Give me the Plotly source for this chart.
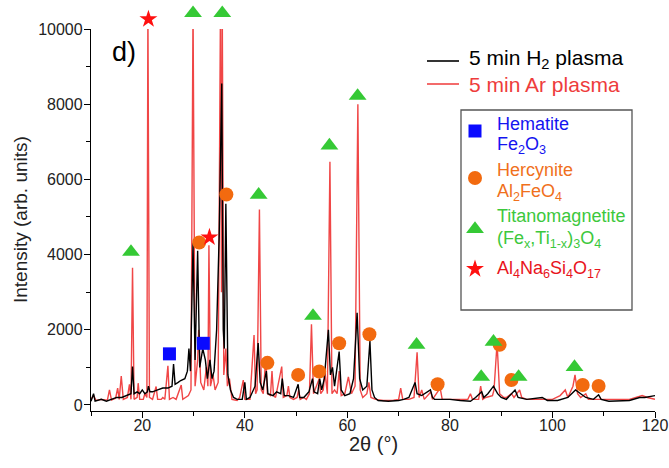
import plotly.graph_objects as go

# ---------------- data ----------------
ar_x = [10.0, 10.5, 11.0, 12.0, 13.2, 13.6, 14.0, 14.8, 15.2, 15.5, 15.9, 16.3, 17.1, 17.5, 17.8,
        18.1, 18.4, 19.0, 19.2, 19.5, 20.2, 20.5, 20.9, 21.1, 21.4, 22.0, 22.7, 23.0, 23.7, 24.0,
        24.4, 25.0, 25.3, 26.0, 26.6, 27.6, 27.9, 28.5, 29.0, 29.5, 29.9, 30.3, 30.8, 31.0, 31.4,
        32.0, 32.5, 32.8, 33.0, 33.3, 33.8, 34.2, 34.8, 35.25, 35.45, 35.6, 35.9, 36.3, 36.6, 37.0,
        37.5, 38.5, 39.0, 39.7, 40.0, 41.0, 41.8, 42.1, 42.4, 42.85, 43.2, 43.6, 44.1, 44.4, 45.0,
        45.3, 45.6, 46.0, 47.2, 47.5, 48.2, 48.5, 48.8, 49.5, 50.2, 50.5, 50.8, 51.5, 52.0, 52.6,
        53.0, 53.4, 54.0, 54.5, 54.8, 55.3, 55.6, 56.1, 56.6, 57.0, 57.5, 58.0, 58.4, 58.8, 59.5,
        60.2, 60.8, 61.5, 62.05, 62.5, 63.0, 63.8, 64.2, 64.6, 65.5, 67.0, 69.0, 70.0, 70.4, 70.8,
        72.0, 73.0, 73.6, 74.0, 74.5, 75.0, 76.3, 76.6, 78.1, 78.5, 79.0, 80.0, 83.5, 84.0, 84.4,
        85.6, 86.0, 86.4, 87.0, 88.3, 88.6, 89.2, 89.7, 90.5, 91.0, 92.0, 92.5, 93.6, 94.0, 95.0,
        98.0, 100.0, 101.5, 102.5, 103.0, 104.0, 104.4, 104.9, 105.5, 106.5, 107.0, 110.0, 115.0,
        117.5, 118.5, 120.0]
ar_y = [150, 250, 120, 150, 130, 400, 130, 180, 450, 150, 770, 150, 200, 550, 150,
        3650, 150, 200, 580, 150, 150, 300, 200, 10600, 200, 150, 490, 150, 150, 200,
        150, 1040, 150, 200, 150, 530, 150, 200, 250, 400, 10600, 500, 1200, 2000, 600,
        400, 1000, 500, 4250, 500, 800, 400, 600, 10600, 3000, 10600, 800, 1500, 500, 700,
        150, 120, 200, 660, 150, 150, 1860, 300, 400, 5200, 400, 300, 1280, 300, 250,
        900, 250, 200, 1020, 200, 250, 500, 200, 150, 200, 400, 150, 200, 150, 300,
        2150, 300, 500, 700, 300, 400, 900, 300, 6470, 300, 400, 300, 900, 250, 300,
        750, 300, 500, 8000, 400, 200, 300, 600, 200, 150, 120, 130, 150, 450, 150,
        150, 200, 1400, 200, 400, 150, 350, 150, 450, 150, 150, 150, 150, 300, 150,
        150, 500, 150, 200, 250, 400, 1650, 300, 200, 200, 300, 200, 400, 200, 150,
        150, 150, 250, 400, 200, 500, 800, 300, 200, 300, 150, 150, 150,
        250, 200, 150]

h2_x = [10.0, 10.5, 10.8, 12.0, 13.0, 14.0, 15.0, 16.0, 17.0, 17.8, 18.1, 18.4, 19.0, 19.5, 20.0,
        20.5, 21.0, 21.2, 21.5, 22.0, 23.0, 24.0, 25.0, 25.8, 26.1, 26.4, 27.0, 27.5, 28.3, 28.8,
        29.1, 29.4, 29.9, 30.3, 30.8, 31.2, 31.8, 32.3, 32.7, 33.2, 33.6, 34.0, 34.5, 35.0, 35.5,
        35.8, 36.0, 36.3, 36.7, 37.2, 37.8, 38.5, 39.5, 40.0, 40.3, 41.0, 42.0, 42.6, 43.0, 43.5,
        44.2, 44.5, 45.5, 46.2, 47.0, 47.3, 47.7, 48.5, 49.5, 50.4, 50.7, 51.5, 52.5, 53.2, 53.5,
        54.2, 54.6, 55.0, 55.5, 56.3, 56.7, 57.1, 57.5, 58.4, 58.8, 59.5, 60.5, 61.2, 61.9, 62.4,
        63.0, 63.8, 64.4, 64.8, 65.3, 66.0, 68.0, 70.0, 71.0, 72.0, 73.2, 73.6, 74.5, 75.0, 76.2,
        76.6, 77.0, 79.0, 80.0, 82.0, 84.0, 85.0, 86.2, 86.6, 87.4, 88.5, 89.3, 90.0, 91.0, 92.7,
        93.3, 95.0, 98.0, 99.0, 101.0, 103.0, 104.5, 105.5, 106.5, 108.0, 109.0, 109.5, 111.0,
        115.0, 117.0, 118.0, 120.0]
h2_y = [100, 300, 100, 150, 100, 150, 200, 200, 250, 300, 1020, 300, 350, 300, 400,
        300, 350, 500, 350, 350, 400, 450, 450, 500, 1090, 550, 600, 650, 700, 900,
        1500, 900, 4300, 1200, 4100, 1000, 1500, 1200, 700, 1200, 700, 900, 2000, 4500, 8550,
        2000, 1500, 5350, 800, 400, 200, 150, 150, 600, 150, 200, 500, 1650, 600, 400,
        900, 300, 250, 350, 300, 700, 250, 250, 200, 550, 200, 200, 350, 700, 350,
        300, 700, 400, 700, 2000, 800, 1000, 500, 1420, 400, 250, 300, 700, 2450, 700,
        400, 500, 1700, 400, 200, 120, 100, 120, 150, 200, 600, 300, 250, 300, 400,
        200, 150, 150, 150, 120, 100, 200, 350, 200, 300, 500, 300, 200, 150, 400,
        200, 150, 200, 120, 120, 200, 400, 300, 200, 150, 270, 150, 100,
        120, 200, 200, 250]

# phase markers
hem_x = [25.3, 31.9]
hem_y = [1360, 1640]
herc_x = [31.1, 36.4, 44.4, 50.4, 54.5, 58.4, 64.3, 77.6, 89.7, 92.0, 105.9, 109.0]
herc_y = [4320, 5600, 1120, 800, 890, 1640, 1880, 550, 1600, 665, 530, 505]
tit_x = [17.8, 29.9, 35.6, 42.7, 53.3, 56.5, 62.0, 73.5, 86.1, 88.5, 93.4, 104.3]
tit_y = [4070, 10420, 10420, 5590, 2370, 6900, 8220, 1600, 745, 1680, 745, 1010]
aln_x = [21.2, 33.1]
aln_y = [10260, 4460]

X_RANGE = [10, 120]
Y_RANGE = [-160, 10000]

FONT = "Liberation Sans, Arial, sans-serif"
RED_LINE = "#f04646"

# pixel frame: plot area x 91..655, main y axis 29..411, marker layer extends up to y=5
W, H = 669, 468
L, R, T, TOP, B = 91, 655, 29, 5, 411
main_frac = (B - T) / (B - TOP)
y_marker_top = Y_RANGE[0] + (Y_RANGE[1] - Y_RANGE[0]) / main_frac

def px(x):
    return (x - L) / (R - L)
def py(y):
    return (B - y) / (B - TOP)

fig = go.Figure()
fig.add_trace(go.Scatter(x=ar_x, y=ar_y, mode="lines",
                         line=dict(color=RED_LINE, width=1.4), showlegend=False))
fig.add_trace(go.Scatter(x=h2_x, y=h2_y, mode="lines",
                         line=dict(color="#000000", width=1.4), showlegend=False))

SQ = ("square", "#0a0aff", 13)
CI = ("circle", "#f26a0f", 14)
TR = ("triangle-up", "#35c935", 15.5)
ST = ("star", "#ff1010", 13.5)

def marker_trace(xs, ys, spec):
    sym, col, size = spec
    return go.Scatter(x=xs, y=ys, mode="markers", cliponaxis=False, showlegend=False,
                      xaxis="x", yaxis="y3",
                      marker=dict(symbol=sym, color=col, size=size, line=dict(width=0)))

fig.add_trace(marker_trace(hem_x, hem_y, SQ))
fig.add_trace(marker_trace(herc_x, herc_y, CI))
fig.add_trace(marker_trace(tit_x, tit_y, TR))
fig.add_trace(marker_trace(aln_x, aln_y, ST))

shapes = [
    dict(type="line", xref="paper", yref="paper", x0=px(427), x1=px(459), y0=py(61), y1=py(61),
         line=dict(color="#000000", width=1.6)),
    dict(type="line", xref="paper", yref="paper", x0=px(427), x1=px(459), y0=py(84), y1=py(84),
         line=dict(color=RED_LINE, width=1.6)),
    dict(type="rect", xref="paper", yref="paper", x0=px(461), x1=px(632), y0=py(310), y1=py(110),
         line=dict(color="#555555", width=1.3), fillcolor="rgba(0,0,0,0)"),
]

for spec, ypix in [(SQ, 131), (CI, 178), (TR, 229), (ST, 269)]:
    sym, col, size = spec
    fig.add_trace(go.Scatter(x=[px(475)], y=[py(ypix)], xaxis="x2", yaxis="y2", mode="markers",
                             showlegend=False, cliponaxis=False,
                             marker=dict(symbol=sym, color=col, size=size, line=dict(width=0))))

def note(text, x, y, size, color, xanchor="left", angle=0):
    return dict(text=text, x=px(x), y=py(y), xref="paper", yref="paper", xanchor=xanchor,
                yanchor="middle", align="left", showarrow=False, textangle=angle,
                font=dict(family=FONT, size=size, color=color))

BLUE_T, ORANGE_T, GREEN_T, RED_T = "#1414f0", "#f0701c", "#3cc83c", "#e8141c"
ann = [
    note("d)", 110, 52, 27, "#000000"),
    note("5 min H<sub>2</sub> plasma", 467, 59, 21, "#000000"),
    note("5 min Ar plasma", 467, 85, 21, "#ee3c3c"),
    note("Hematite", 495, 124, 18, BLUE_T),
    note("Fe<sub>2</sub>O<sub>3</sub>", 495, 146, 18, BLUE_T),
    note("Hercynite", 495, 170, 18, ORANGE_T),
    note("Al<sub>2</sub>FeO<sub>4</sub>", 495, 192, 18, ORANGE_T),
    note("Titanomagnetite", 495, 216, 18, GREEN_T),
    note("(Fe<sub>x</sub>,Ti<sub>1-x</sub>)<sub>3</sub>O<sub>4</sub>", 495, 239, 18, GREEN_T),
    note("Al<sub>4</sub>Na<sub>6</sub>Si<sub>4</sub>O<sub>17</sub>", 495, 270, 18, RED_T),
    note("Intensity (arb. units)", 21, 220, 19, "#222222", xanchor="center", angle=-90),
    note("2θ (°)", 373, 444, 20, "#222222", xanchor="center"),
]

axis_common = dict(showgrid=False, zeroline=False, showline=True, linecolor="#000000",
                   linewidth=1.3, ticks="outside", ticklen=6, tickwidth=1.3, tickcolor="#000000",
                   tickfont=dict(family=FONT, size=16, color="#222222"), tickformat="d")

fig.update_layout(
    width=W, height=H,
    margin=dict(l=L, r=W - R, t=TOP, b=H - B, pad=0, autoexpand=False),
    paper_bgcolor="white", plot_bgcolor="rgba(0,0,0,0)",
    showlegend=False,
    shapes=shapes, annotations=ann,
    xaxis=dict(range=X_RANGE, dtick=20, tick0=0, domain=[0, 1], anchor="y",
               ticklabelstandoff=-6,
               minor=dict(dtick=10, tick0=0, ticks="outside", ticklen=4, tickwidth=1.1,
                          tickcolor="#000000"), **axis_common),
    yaxis=dict(range=Y_RANGE, dtick=2000, tick0=0, domain=[0, main_frac], anchor="x",
               ticklabelstandoff=-2,
               minor=dict(dtick=1000, tick0=0, ticks="outside", ticklen=4, tickwidth=1.1,
                          tickcolor="#000000"), **axis_common),
    yaxis3=dict(range=[Y_RANGE[0], y_marker_top], domain=[0, 1], anchor="x", visible=False),
    xaxis2=dict(range=[0, 1], domain=[0, 1], anchor="y2", visible=False),
    yaxis2=dict(range=[0, 1], domain=[0, 1], anchor="x2", visible=False),
)

fig.write_html("out.html", post_script="document.body.style.margin='0';",
               config={"displayModeBar": False})
